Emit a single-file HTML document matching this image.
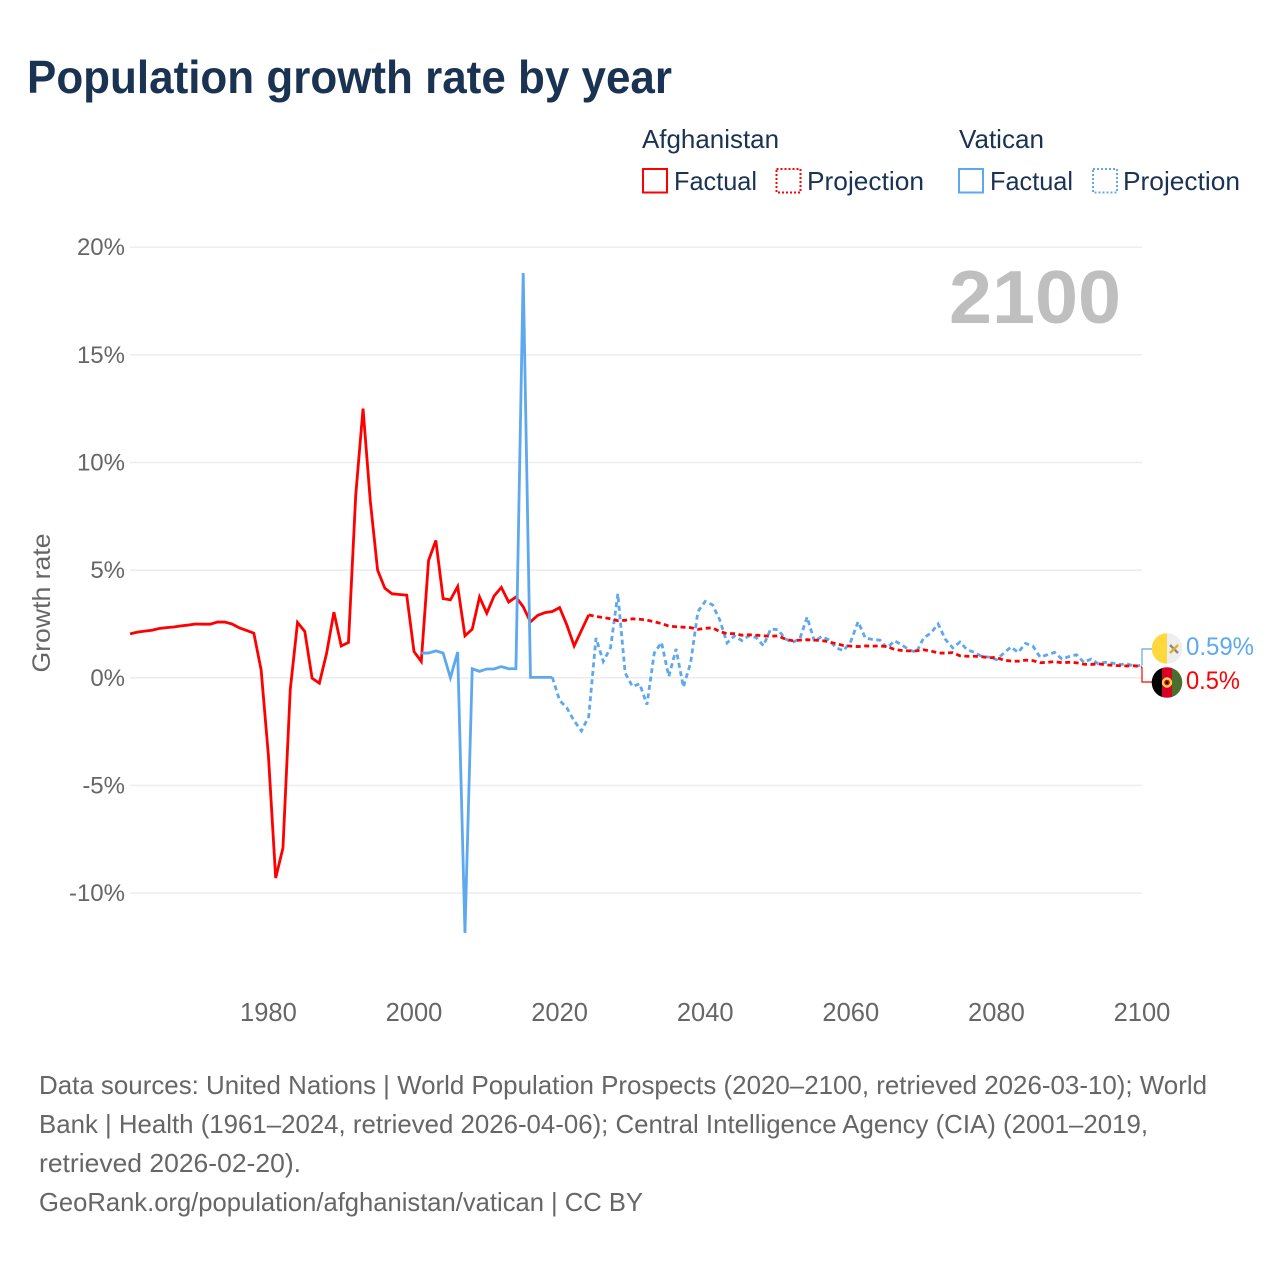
<!DOCTYPE html>
<html lang="en">
<head>
<meta charset="utf-8">
<title>Population growth rate by year</title>
<style>
html,body{margin:0;padding:0;background:#fff;}
svg{display:block;font-family:"Liberation Sans",sans-serif;}
</style>
</head>
<body>
<svg id="chart" width="1280" height="1280" viewBox="0 0 1280 1280" xmlns="http://www.w3.org/2000/svg">
  <defs>
    <clipPath id="clip-vatican"><circle cx="1167" cy="648.5" r="15.3"/></clipPath>
    <clipPath id="clip-afghanistan"><circle cx="1167" cy="682.5" r="15.3"/></clipPath>
  </defs>
  <text x="27" y="93" font-size="46" font-weight="700" fill="#1a3352" textLength="645" lengthAdjust="spacingAndGlyphs">Population growth rate by year</text>

  <g font-size="26" fill="#1a3352">
    <text x="642" y="148" textLength="137" lengthAdjust="spacingAndGlyphs">Afghanistan</text>
    <text x="959" y="148" textLength="85" lengthAdjust="spacingAndGlyphs">Vatican</text>
    <rect x="643" y="169" width="24" height="23.5" fill="none" stroke="#ff0000" stroke-width="2"/>
    <text x="674" y="190" textLength="83" lengthAdjust="spacingAndGlyphs">Factual</text>
    <rect x="776.5" y="169" width="24" height="23.5" fill="none" stroke="#ff0000" stroke-width="2" stroke-dasharray="2 2"/>
    <text x="807" y="190" textLength="117" lengthAdjust="spacingAndGlyphs">Projection</text>
    <rect x="959" y="169" width="24" height="23.5" fill="none" stroke="#5ea8ef" stroke-width="2"/>
    <text x="990" y="190" textLength="83" lengthAdjust="spacingAndGlyphs">Factual</text>
    <rect x="1093" y="169" width="24" height="23.5" fill="none" stroke="#5ea8ef" stroke-width="2" stroke-dasharray="2 2"/>
    <text x="1123" y="190" textLength="117" lengthAdjust="spacingAndGlyphs">Projection</text>
  </g>

  <g id="grid"></g>
  <g id="y-ticks"></g>
  <g id="x-ticks"></g>
  <text transform="translate(50,603) rotate(-90)" text-anchor="middle" font-size="25" fill="#666666" textLength="139" lengthAdjust="spacingAndGlyphs">Growth rate</text>
  <text id="year-label" x="949" y="323" font-size="75" font-weight="700" fill="#bfbfbf" textLength="172" lengthAdjust="spacingAndGlyphs">2100</text>
  <g id="series"></g>
  <g id="end-markers"></g>

  <g clip-path="url(#clip-vatican)">
    <rect x="1151" y="633" width="16" height="31" fill="#ffd83d"/>
    <rect x="1167" y="633" width="16" height="31" fill="#eeeeee"/>
    <path d="M1170 645 L1178 653" stroke="#888888" stroke-width="2.5" fill="none"/>
    <path d="M1170 653 L1178 645" stroke="#e0b020" stroke-width="2.5" fill="none"/>
  </g>
  <g clip-path="url(#clip-afghanistan)">
    <rect x="1151" y="667" width="11" height="31" fill="#000000"/>
    <rect x="1162" y="667" width="10" height="31" fill="#d80027"/>
    <rect x="1172" y="667" width="11" height="31" fill="#496e2d"/>
    <circle cx="1167" cy="682.5" r="4" fill="none" stroke="#ffda44" stroke-width="2.4"/>
    <circle cx="1167" cy="682.5" r="1.2" fill="#000000"/>
  </g>

  <g font-size="26" fill="#666666">
    <text x="39" y="1094" textLength="1168" lengthAdjust="spacingAndGlyphs">Data sources: United Nations | World Population Prospects (2020–2100, retrieved 2026-03-10); World</text>
    <text x="39" y="1133" textLength="1109" lengthAdjust="spacingAndGlyphs">Bank | Health (1961–2024, retrieved 2026-04-06); Central Intelligence Agency (CIA) (2001–2019,</text>
    <text x="39" y="1172" textLength="262" lengthAdjust="spacingAndGlyphs">retrieved 2026-02-20).</text>
    <text x="39" y="1211" textLength="604" lengthAdjust="spacingAndGlyphs">GeoRank.org/population/afghanistan/vatican | CC BY</text>
  </g>
</svg>
<script>
// ---- chart data ----
const yTicks = [20, 15, 10, 5, 0, -5, -10];
const xTicks = [1980, 2000, 2020, 2040, 2060, 2080, 2100];

const afghanFactualStart = 1961;
const afghanFactual = [
  2.04,2.12,2.17,2.21,2.29,2.33,2.36,2.41,2.45,2.50,
  2.49,2.49,2.59,2.59,2.50,2.32,2.20,2.07,0.37,-3.6,
  -9.3,-7.9,-0.56,2.57,2.15,-0.02,-0.25,1.15,3.05,1.48,
  1.64,8.5,12.5,8.2,5.0,4.16,3.9,3.87,3.84,1.22,
  0.76,5.45,6.38,3.68,3.62,4.24,1.95,2.26,3.75,3.0,
  3.8,4.2,3.52,3.75,3.3,2.6,2.9,3.03,3.08,3.26,
  2.45,1.48,2.2,2.92
];

const afghanProjectionStart = 2024;
const afghanProjection = [
  2.92,2.85,2.8,2.74,2.65,2.67,2.74,2.72,2.68,2.6,
  2.52,2.4,2.37,2.35,2.33,2.25,2.3,2.32,2.15,2.05,
  2.05,1.98,2.0,1.98,1.95,1.93,1.95,1.8,1.72,1.75,
  1.77,1.75,1.73,1.67,1.58,1.5,1.47,1.45,1.48,1.47,
  1.48,1.45,1.32,1.27,1.25,1.25,1.3,1.25,1.15,1.15,
  1.17,1.02,1.0,1.0,0.98,0.93,0.95,0.82,0.78,0.77,
  0.82,0.8,0.7,0.72,0.75,0.7,0.72,0.7,0.63,0.62,
  0.65,0.6,0.58,0.56,0.55,0.56,0.5
];

const vaticanFactualStart = 2001;
const vaticanFactual = [
  1.15,1.15,1.25,1.15,0.0,1.2,-11.85,0.42,0.3,0.41,
  0.41,0.52,0.42,0.42,18.8,0.02,0.02,0.02,0.02
];

const vaticanProjectionStart = 2019;
const vaticanProjection = [
  0.02,-1.05,-1.4,-2.0,-2.47,-1.8,1.85,0.76,1.4,3.9,
  0.23,-0.4,-0.28,-1.25,1.15,1.64,0.06,1.34,-0.43,0.7,
  3.08,3.55,3.39,2.69,1.62,1.95,1.73,1.95,1.87,1.49,
  2.27,2.23,1.81,1.64,1.81,2.82,1.69,1.92,1.76,1.39,
  1.26,1.69,2.6,1.85,1.78,1.75,1.39,1.72,1.53,1.3,
  1.18,1.85,2.08,2.5,1.78,1.39,1.66,1.3,1.18,0.99,
  0.96,0.84,1.14,1.43,1.18,1.6,1.48,0.96,1.07,1.18,
  0.87,0.99,1.07,0.72,0.87,0.65,0.72,0.68,0.62,0.64,
  0.53,0.59
];

const endValueVatican = 0.59;
const endValueAfghanistan = 0.5;

// ---- axis functions ----
function xScale(year) { return 1142 + (year - 2100) * 7.28; }
function yScale(pct) { return 677.8 - pct * 21.53; }

const SVGNS = 'http://www.w3.org/2000/svg';
const RED = '#ff0000';
const BLUE = '#5ea8ef';

function buildPath(values, startYear) {
  return values.map(function (v, i) {
    return (i ? 'L' : 'M') + xScale(startYear + i).toFixed(2) + ' ' + yScale(v).toFixed(2);
  }).join(' ');
}

const gridGroup = document.getElementById('grid');
const yTickGroup = document.getElementById('y-ticks');
const xTickGroup = document.getElementById('x-ticks');
const seriesGroup = document.getElementById('series');
const endGroup = document.getElementById('end-markers');

yTicks.forEach(function (t) {
  const line = document.createElementNS(SVGNS, 'line');
  
  
  line.setAttribute('x1', 130);
  line.setAttribute('x2', 1142);
  line.setAttribute('y1', yScale(t));
  line.setAttribute('y2', yScale(t));
  line.setAttribute('stroke', '#eeeeee');
  line.setAttribute('stroke-width', 1.6);
  gridGroup.appendChild(line);

  const label = document.createElementNS(SVGNS, 'text');
  
  
  label.setAttribute('x', 125);
  label.setAttribute('y', yScale(t) + 8);
  label.setAttribute('text-anchor', 'end');
  label.setAttribute('font-size', 24);
  label.setAttribute('fill', '#666666');
  label.textContent = t + '%';
  yTickGroup.appendChild(label);
});

xTicks.forEach(function (t) {
  const label = document.createElementNS(SVGNS, 'text');
  
  
  label.setAttribute('x', xScale(t));
  label.setAttribute('y', 1021);
  label.setAttribute('text-anchor', 'middle');
  label.setAttribute('font-size', 25.5);
  label.setAttribute('fill', '#666666');
  label.textContent = t;
  xTickGroup.appendChild(label);
});

const vaticanProjectionLine = document.createElementNS(SVGNS, 'path');


vaticanProjectionLine.setAttribute('d', buildPath(vaticanProjection, vaticanProjectionStart));
vaticanProjectionLine.setAttribute('fill', 'none');
vaticanProjectionLine.setAttribute('stroke', BLUE);
vaticanProjectionLine.setAttribute('stroke-width', 2.8);
vaticanProjectionLine.setAttribute('stroke-dasharray', '5 3.5');
seriesGroup.appendChild(vaticanProjectionLine);

const afghanProjectionLine = document.createElementNS(SVGNS, 'path');


afghanProjectionLine.setAttribute('d', buildPath(afghanProjection, afghanProjectionStart));
afghanProjectionLine.setAttribute('fill', 'none');
afghanProjectionLine.setAttribute('stroke', RED);
afghanProjectionLine.setAttribute('stroke-width', 2.8);
afghanProjectionLine.setAttribute('stroke-dasharray', '5 3.5');
seriesGroup.appendChild(afghanProjectionLine);

const afghanFactualLine = document.createElementNS(SVGNS, 'path');


afghanFactualLine.setAttribute('d', buildPath(afghanFactual, afghanFactualStart));
afghanFactualLine.setAttribute('fill', 'none');
afghanFactualLine.setAttribute('stroke', RED);
afghanFactualLine.setAttribute('stroke-width', 2.8);
afghanFactualLine.setAttribute('stroke-linejoin', 'miter');
seriesGroup.appendChild(afghanFactualLine);

const vaticanFactualLine = document.createElementNS(SVGNS, 'path');


vaticanFactualLine.setAttribute('d', buildPath(vaticanFactual, vaticanFactualStart));
vaticanFactualLine.setAttribute('fill', 'none');
vaticanFactualLine.setAttribute('stroke', BLUE);
vaticanFactualLine.setAttribute('stroke-width', 2.8);
vaticanFactualLine.setAttribute('stroke-linejoin', 'miter');
seriesGroup.appendChild(vaticanFactualLine);

const vaticanConnector = document.createElementNS(SVGNS, 'path');


vaticanConnector.setAttribute('d', 'M' + xScale(2100) + ' ' + yScale(endValueVatican).toFixed(1) + ' V649 H1152');
vaticanConnector.setAttribute('fill', 'none');
vaticanConnector.setAttribute('stroke', BLUE);
vaticanConnector.setAttribute('stroke-width', 1.2);
endGroup.appendChild(vaticanConnector);

const afghanConnector = document.createElementNS(SVGNS, 'path');


afghanConnector.setAttribute('d', 'M' + xScale(2100) + ' ' + yScale(endValueAfghanistan).toFixed(1) + ' V682 H1152');
afghanConnector.setAttribute('fill', 'none');
afghanConnector.setAttribute('stroke', RED);
afghanConnector.setAttribute('stroke-width', 1.2);
endGroup.appendChild(afghanConnector);

const vaticanEndLabel = document.createElementNS(SVGNS, 'text');


vaticanEndLabel.setAttribute('x', 1186);
vaticanEndLabel.setAttribute('y', 655);
vaticanEndLabel.setAttribute('font-size', 25);
vaticanEndLabel.setAttribute('fill', BLUE);
vaticanEndLabel.setAttribute('textLength', 68);
vaticanEndLabel.setAttribute('lengthAdjust', 'spacingAndGlyphs');
vaticanEndLabel.textContent = endValueVatican + '%';
endGroup.appendChild(vaticanEndLabel);

const afghanEndLabel = document.createElementNS(SVGNS, 'text');


afghanEndLabel.setAttribute('x', 1186);
afghanEndLabel.setAttribute('y', 689);
afghanEndLabel.setAttribute('font-size', 25);
afghanEndLabel.setAttribute('fill', RED);
afghanEndLabel.setAttribute('textLength', 54);
afghanEndLabel.setAttribute('lengthAdjust', 'spacingAndGlyphs');
afghanEndLabel.textContent = endValueAfghanistan + '%';
endGroup.appendChild(afghanEndLabel);
</script>
</body>
</html>
